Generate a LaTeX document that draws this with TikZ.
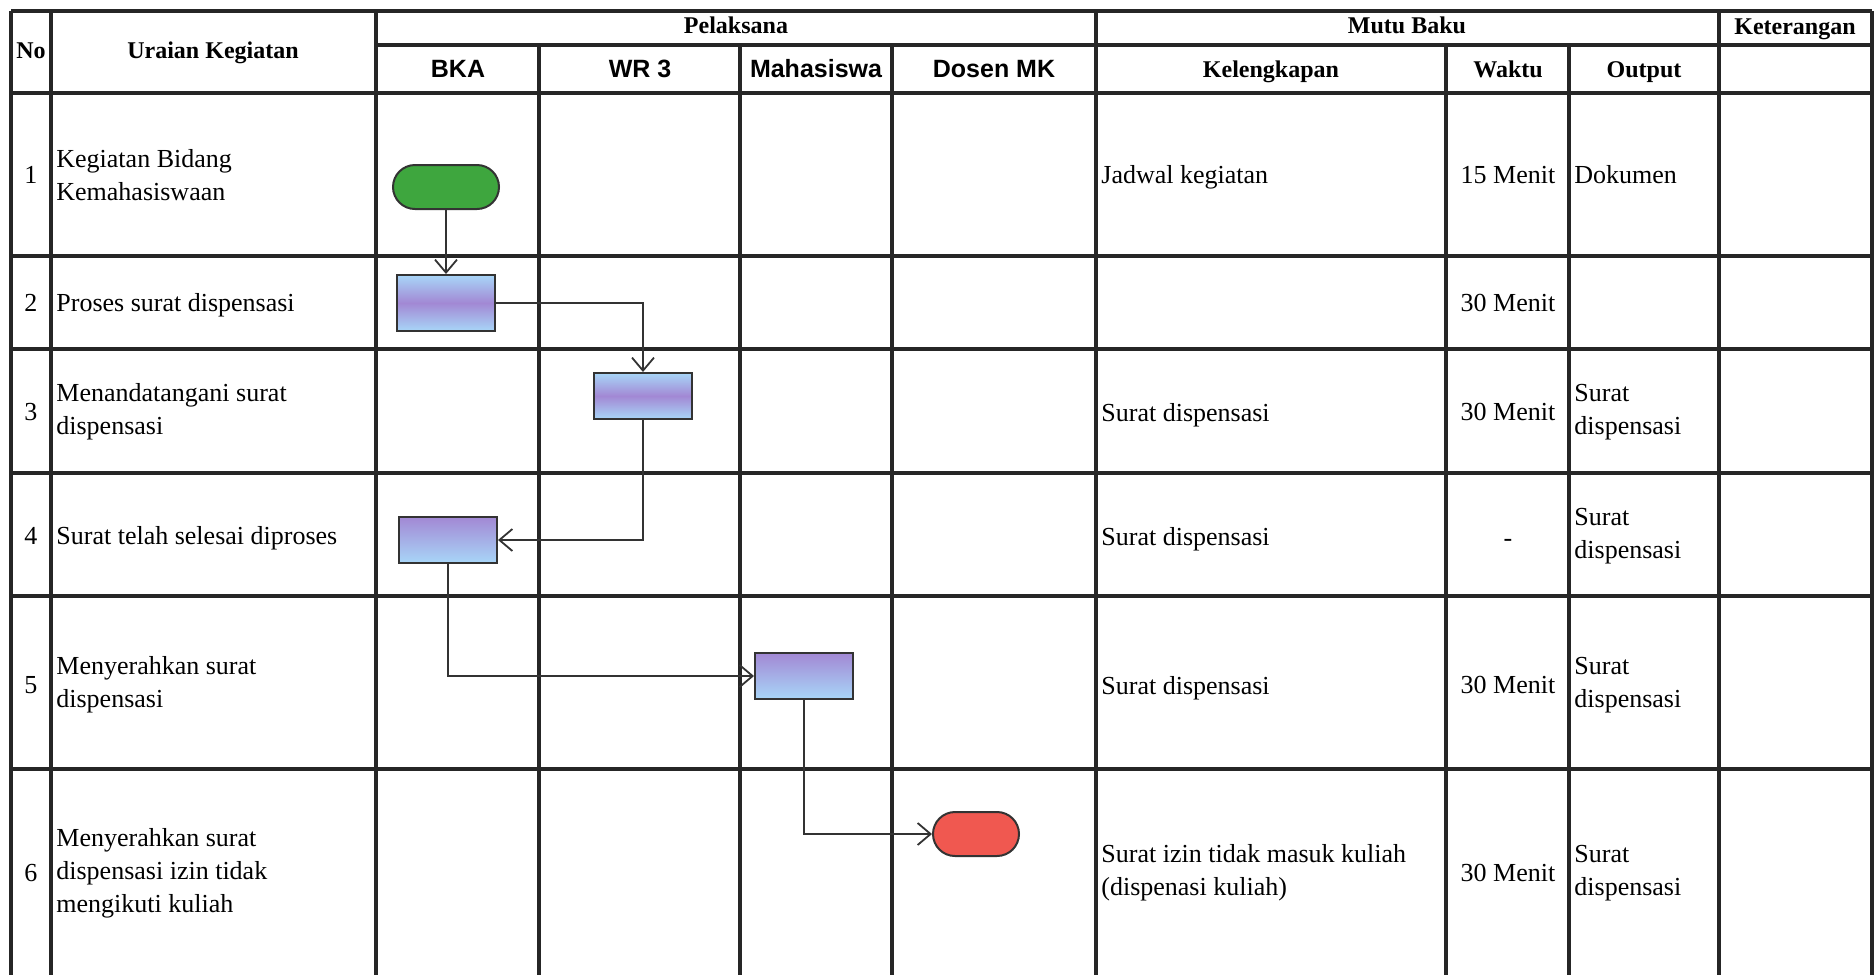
\documentclass[tikz,border=0pt]{standalone}
\usepackage{fontspec}
\setmainfont{Liberation Serif}
\newfontfamily\lanefont{Liberation Sans}
\usetikzlibrary{arrows.meta}
\definecolor{boxblue}{RGB}{168,214,248}
\definecolor{boxpurple}{RGB}{162,136,212}
\definecolor{startgreen}{RGB}{62,166,62}
\definecolor{endred}{RGB}{240,88,80}
\tikzset{
  grid/.style={line width=1.8pt,black!85},
  body/.style={inner sep=0pt,align=left,font=\fontsize{13}{16.5}\selectfont},
  single/.style={body,text height=10pt,text depth=2pt},
  head/.style={inner sep=0pt,text height=8.5pt,text depth=2.5pt,font=\fontsize{12}{14}\selectfont\bfseries},
  lane/.style={inner sep=0pt,text height=9pt,text depth=2pt,font=\fontsize{12.5}{14}\selectfont\lanefont\bfseries},
  proc/.style={draw=black!80,line width=1pt,minimum width=49pt,minimum height=23pt,
    inner sep=0pt,top color=boxblue,bottom color=boxblue,middle color=boxpurple},
  procb/.style={draw=black!80,line width=1pt,minimum width=49pt,minimum height=23pt,
    inner sep=0pt,top color=boxpurple,bottom color=boxblue},
  term/.style={draw=black!80,line width=1pt,rounded corners=11pt,minimum height=22pt,inner sep=0pt},
  flow/.style={line width=0.9pt,black!80,-{Straight Barb[length=6.5pt,width=11pt]}}
}
\begin{document}
\begin{tikzpicture}[x=0.5pt,y=-0.5pt]
  \fill[white] (0,0) rectangle (1875,975);
  \begin{scope}[grid]
    \draw (11,11) -- (1872,11);
    \draw (376,45) -- (1872,45);
    \foreach \y in {93,256,349,473,596,769}
      \draw (11,\y) -- (1872,\y);
    \foreach \x in {11,51,376,1096,1719,1872}
      \draw (\x,11) -- (\x,975);
    \foreach \x in {539,740,892,1446,1569}
      \draw (\x,45) -- (\x,975);
  \end{scope}

  \node[head] (hno) at (31,52) {No};
  \node[head] (huraian) at (213,52) {Uraian Kegiatan};
  \node[head] (hpel) at (736,27) {Pelaksana};
  \node[head] (hmutu) at (1407,27) {Mutu Baku};
  \node[head] (hket) at (1795,28) {Keterangan};
  \node[lane] (hbka) at (458,70) {BKA};
  \node[lane] (hwr) at (640,70) {WR 3};
  \node[lane] (hmhs) at (816,70) {Mahasiswa};
  \node[lane] (hdosen) at (994,70) {Dosen MK};
  \node[head] (hkel) at (1271,71) {Kelengkapan};
  \node[head] (hwaktu) at (1508,71) {Waktu};
  \node[head] (hout) at (1644,71) {Output};

  \node[single] (n1) at (31,175) {1};
  \node[single] (n2) at (31,303) {2};
  \node[single] (n3) at (31,412) {3};
  \node[single] (n4) at (31,536) {4};
  \node[single] (n5) at (31,685) {5};
  \node[single] (n6) at (31,873) {6};

  \node[body,anchor=west] (u1) at (56,175) {Kegiatan Bidang\\Kemahasiswaan};
  \node[single,anchor=west] (u2) at (56,303) {Proses surat dispensasi};
  \node[body,anchor=west] (u3) at (56,412) {Menandatangani surat\\dispensasi};
  \node[single,anchor=west] (u4) at (56,536) {Surat telah selesai diproses};
  \node[body,anchor=west] (u5) at (56,685) {Menyerahkan surat\\dispensasi};
  \node[body,anchor=west] (u6) at (56,873) {Menyerahkan surat\\dispensasi izin tidak\\mengikuti kuliah};

  \node[single,anchor=west] (k1) at (1101,175) {Jadwal kegiatan};
  \node[single,anchor=west] (k3) at (1101,413) {Surat dispensasi};
  \node[single,anchor=west] (k4) at (1101,537) {Surat dispensasi};
  \node[single,anchor=west] (k5) at (1101,686) {Surat dispensasi};
  \node[body,anchor=west] (k6) at (1101,873) {Surat izin tidak masuk kuliah\\(dispenasi kuliah)};

  \node[single] (w1) at (1508,175) {15 Menit};
  \node[single] (w2) at (1508,303) {30 Menit};
  \node[single] (w3) at (1508,412) {30 Menit};
  \node[single] (w4) at (1508,538) {-};
  \node[single] (w5) at (1508,685) {30 Menit};
  \node[single] (w6) at (1508,873) {30 Menit};

  \node[single,anchor=west] (o1) at (1574,175) {Dokumen};
  \node[body,anchor=west] (o3) at (1574,412) {Surat\\dispensasi};
  \node[body,anchor=west] (o4) at (1574,536) {Surat\\dispensasi};
  \node[body,anchor=west] (o5) at (1574,685) {Surat\\dispensasi};
  \node[body,anchor=west] (o6) at (1574,873) {Surat\\dispensasi};

  \node[term,fill=startgreen,minimum width=53pt] (start) at (446,187) {};
  \node[proc,minimum height=28pt] (p2) at (446,303) {};
  \node[proc] (p3) at (643,396) {};
  \node[procb] (p4) at (448,540) {};
  \node[procb] (p5) at (804,676) {};
  \node[term,fill=endred,minimum width=43pt] (stop) at (976,834) {};

  \draw[flow] (start) -- (p2);
  \draw[flow] (p2) -| (p3);
  \draw[flow] (p3) |- (p4);
  \draw[flow] (p4) |- (p5);
  \draw[flow] (p5) |- (stop);
\end{tikzpicture}
\end{document}
